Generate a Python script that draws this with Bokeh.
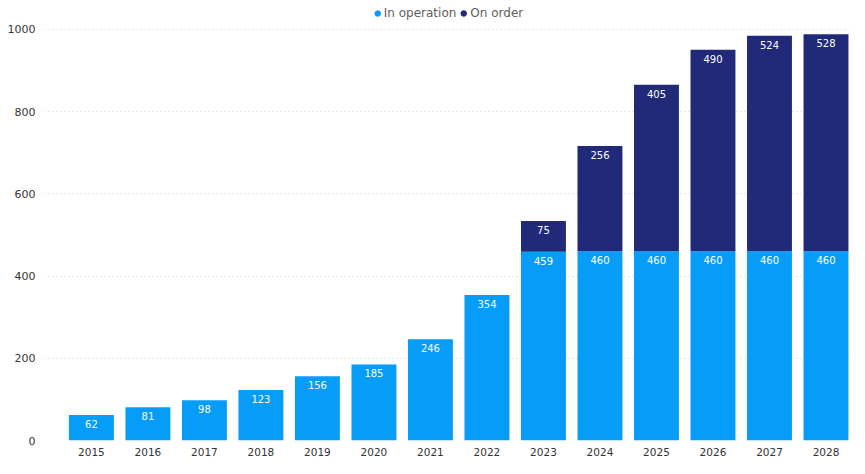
from bokeh.plotting import figure
from bokeh.models import ColumnDataSource, Range1d, FixedTicker, Legend, LegendItem
from bokeh.core.properties import value
from bokeh.embed import file_html
from bokeh.resources import INLINE

years = [2015, 2016, 2017, 2018, 2019, 2020, 2021, 2022, 2023, 2024, 2025, 2026, 2027, 2028]
in_operation = [62, 81, 98, 123, 156, 185, 246, 354, 459, 460, 460, 460, 460, 460]
on_order = [0, 0, 0, 0, 0, 0, 0, 0, 75, 256, 405, 490, 524, 528]
series_names = ["In operation", "On order"]
y_ticks = [0, 200, 400, 600, 800, 1000]

C_OP = "#069DF8"
C_ORD = "#202A78"
FONT = "DejaVu Sans"

totals = [a + b for a, b in zip(in_operation, on_order)]
src = ColumnDataSource(dict(year=years, op=in_operation, order=on_order, total=totals,
                            op_lbl=[str(v) for v in in_operation],
                            ord_lbl=[str(v) if v > 0 else "" for v in on_order]))

p = figure(width=849, height=458, output_backend="svg", toolbar_location=None,
           x_range=Range1d(2014.17, 2028.416), y_range=Range1d(0, 1070),
           min_border_left=44, min_border_right=0, min_border_top=0, min_border_bottom=0)
p.outline_line_color = None

p.vbar(x="year", top="op", bottom=0, width=0.795, source=src, color=C_OP, line_color=None)
p.vbar(x="year", top="total", bottom="op", width=0.795, source=src, color=C_ORD, line_color=None)

p.text(x="year", y="op", text="op_lbl", source=src, text_color="white",
       text_font=value(FONT), text_font_size="10px", text_align="center",
       text_baseline="middle", y_offset=9)
p.text(x="year", y="total", text="ord_lbl", source=src, text_color="white",
       text_font=value(FONT), text_font_size="10px", text_align="center",
       text_baseline="middle", y_offset=9)

p.xgrid.grid_line_color = None
p.ygrid.grid_line_color = "#d0d0d0"
p.ygrid.grid_line_dash = "1 3"
p.ygrid.ticker = FixedTicker(ticks=y_ticks)

for ax in (p.xaxis[0], p.yaxis[0]):
    ax.axis_line_color = None
    ax.major_tick_line_color = None
    ax.minor_tick_line_color = None
    ax.major_label_text_font = FONT
    ax.major_label_text_color = "#333333"
p.xaxis.major_label_text_font_size = "10.5px"
p.yaxis.major_label_text_font_size = "11px"
p.xaxis.ticker = FixedTicker(ticks=years)
p.yaxis.ticker = FixedTicker(ticks=y_ticks)
p.xaxis.major_label_standoff = 1
p.yaxis.major_label_standoff = 3

# legend-only markers, kept below the visible y range
dummy = ColumnDataSource(dict(x=[years[0]], y=[-1000]))
d1 = p.scatter(x="x", y="y", source=dummy, marker="circle", size=6, color=C_OP)
d2 = p.scatter(x="x", y="y", source=dummy, marker="circle", size=6, color=C_ORD)
legend = Legend(items=[LegendItem(label=series_names[0], renderers=[d1]),
                       LegendItem(label=series_names[1], renderers=[d2])],
                location="top_center", orientation="horizontal",
                background_fill_alpha=0, border_line_color=None,
                label_text_font=FONT, label_text_font_size="12px", label_text_color="#605e5c",
                glyph_width=14, glyph_height=14, label_height=12, label_standoff=-1,
                spacing=0, padding=0, margin=6)
p.add_layout(legend)

open("out.html", "w").write(file_html(p, INLINE))
